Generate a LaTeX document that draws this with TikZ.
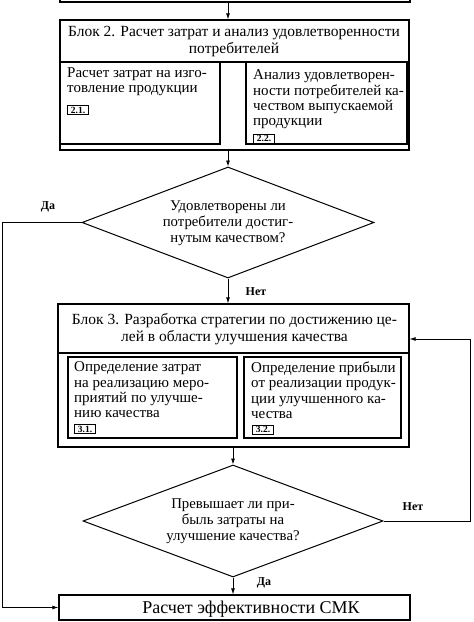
\documentclass[tikz,border=0pt]{standalone}
\usepackage{fontspec}
\setmainfont{Liberation Serif}
\usetikzlibrary{shapes.geometric,arrows.meta}
\begin{document}
\begin{tikzpicture}[x=1pt,y=-1pt,
  box/.style={draw, line width=1.2pt, rectangle, inner sep=0pt},
  dia/.style={draw, line width=1pt, diamond, inner sep=0pt},
  txt/.style={inner sep=0pt, align=center, font=\fontsize{15.5}{17}\selectfont},
  dtxt/.style={inner sep=0pt, align=center, font=\fontsize{14.8}{16}\selectfont},
  itxt/.style={inner sep=0pt, align=left, anchor=north west, font=\fontsize{15}{15.4}\selectfont},
  tag/.style={draw, line width=1pt, inner sep=0pt, minimum width=21pt, minimum height=9pt, anchor=north west, font=\fontsize{9.5}{9.5}\bfseries\selectfont},
  lbl/.style={inner sep=0pt, font=\fontsize{12}{12}\bfseries\selectfont},
  arr/.style={line width=0.8pt, -{Latex[length=6pt,width=4pt]}}]
\useasboundingbox (0,0) rectangle (474,622);
% boxes
\node[box, minimum width=350pt, minimum height=32pt] (prev) at (235,-14) {};
\node[box, minimum width=349pt, minimum height=130pt] (b2) at (234.5,85) {};
\node[box, minimum width=160pt, minimum height=82pt] (b21) at (140,103) {};
\node[box, minimum width=161pt, minimum height=82pt] (b22) at (326.5,103) {};
\node[dia, minimum width=292pt, minimum height=111pt] (d1) at (228,222.5) {};
\node[box, minimum width=351pt, minimum height=143pt] (b3) at (233.5,375.5) {};
\node[box, minimum width=169pt, minimum height=81pt] (b31) at (152.5,397.5) {};
\node[box, minimum width=157pt, minimum height=81pt] (b32) at (322.5,397.5) {};
\node[dia, minimum width=300pt, minimum height=112pt] (d2) at (233,521) {};
\node[box, minimum width=351pt, minimum height=25pt] (fin) at (234.5,607.5) {};
% header separators
\coordinate (h2) at (0,62);
\coordinate (h3) at (0,353);
\draw[line width=1.2pt] (b2.west |- h2) -- (b2.east |- h2);
\draw[line width=1.2pt] (b3.west |- h3) -- (b3.east |- h3);
% texts
\node[txt] (b2t) at (234,41.5) {Блок 2. Расчет затрат и анализ удовлетворенности\\потребителей};
\node[itxt] (b21t) at (67,67.5) {Расчет затрат на изго-\\товление продукции};
\node[tag] (b21g) at (67,105) {2.1.};
\node[itxt] (b22t) at (253,69.5) {Анализ удовлетворен-\\ности потребителей ка-\\чеством выпускаемой\\продукции};
\node[tag] (b22g) at (253,133.5) {2.2.};
\node[dtxt] (d1t) at (228,223) {Удовлетворены ли\\потребители достиг-\\нутым качеством?};
\node[txt] (b3t) at (234.5,329.5) {Блок 3. Разработка стратегии по достижению це-\\лей в области улучшения качества};
\node[itxt] (b31t) at (74,361.5) {Определение затрат\\на реализацию меро-\\приятий по улучше-\\нию качества};
\node[tag] (b31g) at (74,424) {3.1.};
\node[itxt] (b32t) at (251,361.5) {Определение прибыли\\от реализации продук-\\ции улучшенного ка-\\чества};
\node[tag] (b32g) at (252,424.5) {3.2.};
\node[dtxt] (d2t) at (233,521) {Превышает ли при-\\быль затраты на\\улучшение качества?};
\node[inner sep=0pt, font=\fontsize{18}{18}\selectfont] (fint) at (251,609) {Расчет эффективности СМК};
% labels
\node[lbl] (l1) at (48,207) {Да};
\node[lbl] (l2) at (256,292) {Нет};
\node[lbl] (l3) at (413,507) {Нет};
\node[lbl] (l4) at (264,583) {Да};
% connectors
\coordinate (ax1) at (228,0);
\coordinate (cl) at (2,0);
\coordinate (cr) at (470,339);
\draw[arr] (prev.south -| ax1) -- (b2.north -| ax1);
\draw[arr] (b2.south -| ax1) -- (d1.north);
\draw[arr] (d1.south) -- (b3.north -| d1.south);
\draw[arr] (d1.west) -- (d1.west -| cl) |- (fin.west);
\draw[arr] (b3.south -| d2.north) -- (d2.north);
\draw[arr] (d2.east) -| (cr) -- (b3.east |- cr);
\draw[arr] (d2.south) -- (fin.north -| d2.south);
\end{tikzpicture}
\end{document}
